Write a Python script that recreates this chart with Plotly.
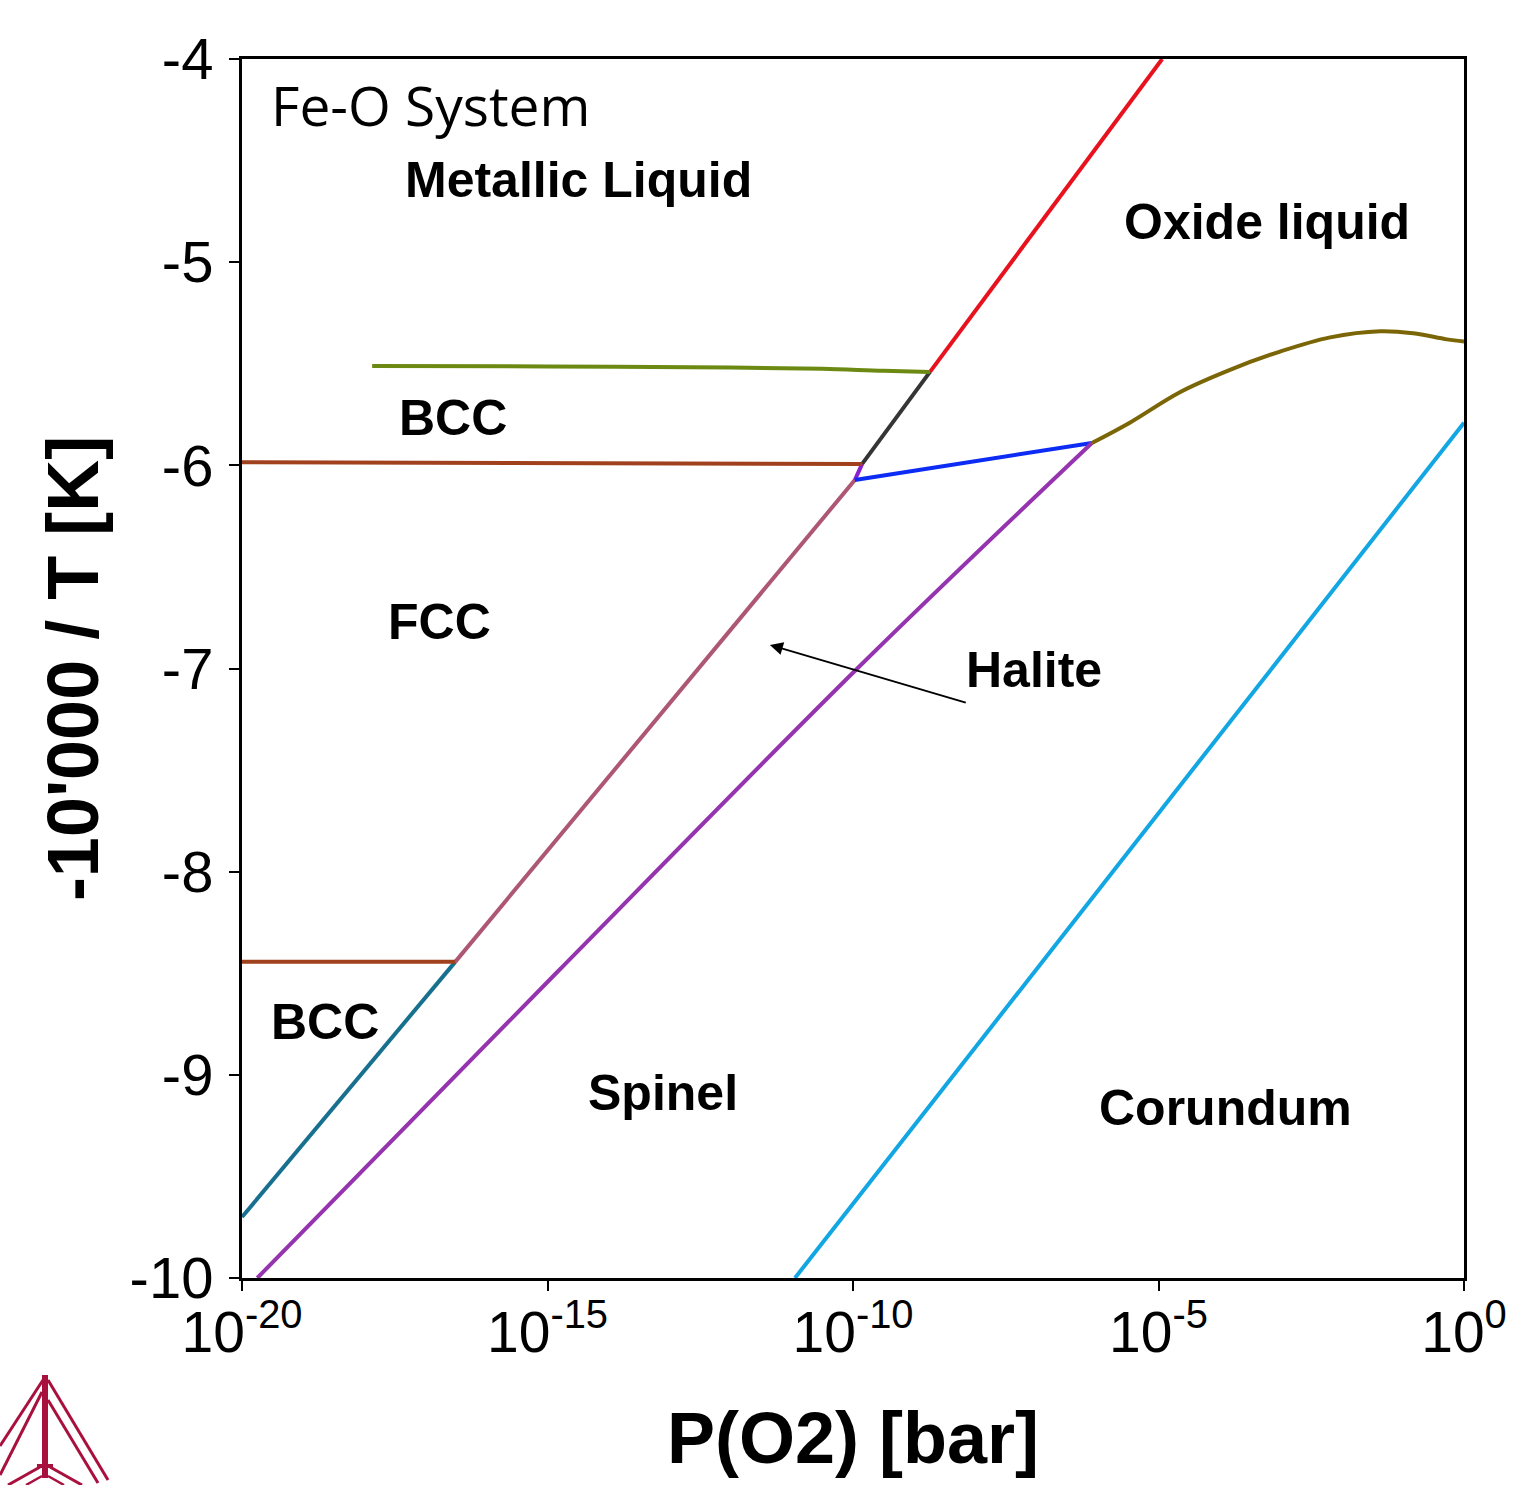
import plotly.graph_objects as go

# ---- data (log10 P(O2) in bar, -10000/T) ----
red_logp = [-8.74, -4.94]
red_y = [-5.54, -4.0]

black_logp = [-9.85, -8.74]
black_y = [-5.993, -5.54]

mauve_logp = [-16.51, -9.97]
mauve_y = [-8.444, -6.072]

violet_logp = [-9.97, -9.85]
violet_y = [-6.072, -5.993]

teal_logp = [-20.0, -16.51]
teal_y = [-9.70, -8.444]

green_logp = [-17.87, -15.0, -12.0, -10.5, -9.5, -8.74]
green_y = [-5.511, -5.513, -5.518, -5.525, -5.535, -5.54]

brown_hi_logp = [-20.0, -15.0, -9.85]
brown_hi_y = [-5.985, -5.988, -5.993]

brown_lo_logp = [-20.0, -16.51]
brown_lo_y = [-8.444, -8.444]

blue_logp = [-9.97, -6.09]
blue_y = [-6.072, -5.89]

purple_logp = [-19.75, -14.86, -9.93, -6.09]
purple_y = [-10.0, -8.5, -7.0, -5.89]

olive_logp = [-6.09, -5.47, -4.65, -3.83, -3.01, -2.19, -1.37, -0.83, -0.28, 0.0]
olive_y = [-5.89, -5.79, -5.64, -5.53, -5.44, -5.37, -5.34, -5.35, -5.38, -5.39]

cyan_logp = [-10.95, 0.0]
cyan_y = [-10.0, -5.79]

x_tick_exps = [-20, -15, -10, -5, 0]
y_ticks = [-4, -5, -6, -7, -8, -9, -10]

region_labels = ["Metallic Liquid", "Oxide liquid", "BCC", "FCC", "Halite", "BCC", "Spinel", "Corundum"]
region_logp = [-14.50, -3.22, -16.55, -16.76, -7.04, -18.64, -13.11, -3.90]
region_y = [-4.595, -4.80, -5.767, -6.77, -7.007, -8.739, -9.089, -9.162]

series = [
    (teal_logp, teal_y, "#17708e", "linear"),
    (mauve_logp, mauve_y, "#ad5774", "linear"),
    (violet_logp, violet_y, "#8a1fd0", "linear"),
    (black_logp, black_y, "#353535", "linear"),
    (red_logp, red_y, "#e8121f", "linear"),
    (green_logp, green_y, "#6c8a12", "spline"),
    (brown_hi_logp, brown_hi_y, "#a0401c", "linear"),
    (brown_lo_logp, brown_lo_y, "#a0401c", "linear"),
    (blue_logp, blue_y, "#0c2cf5", "linear"),
    (purple_logp, purple_y, "#9534ae", "spline"),
    (olive_logp, olive_y, "#7b6607", "spline"),
    (cyan_logp, cyan_y, "#12a6e2", "linear"),
]

fig = go.Figure()
for lp, yy, col, shp in series:
    fig.add_trace(go.Scatter(x=[10 ** v for v in lp], y=yy, mode="lines",
                             line=dict(color=col, width=4, shape=shp), showlegend=False,
                             hoverinfo="skip"))

L, R, T, B = 242, 51, 59, 207
W, H = 1515, 1485

fig.update_layout(
    width=W, height=H,
    margin=dict(l=L, r=R, t=T, b=B, autoexpand=False),
    paper_bgcolor="white", plot_bgcolor="white",
    font=dict(family="Liberation Sans, Arial", color="black"),
    showlegend=False,
)

fig.update_xaxes(
    type="log", range=[-20, 0],
    tickvals=[10 ** e for e in x_tick_exps],
    ticktext=["10<sup>%d</sup>" % e for e in x_tick_exps],
    tickfont=dict(size=57, family="Liberation Sans, Arial"),
    ticks="outside", ticklen=10, tickwidth=2, tickcolor="black",
    ticklabelstandoff=-7,
    showline=True, linecolor="black", linewidth=3, mirror=True,
    showgrid=False, zeroline=False,
    title=dict(text="<b>P(O2) [bar]</b>", font=dict(size=72, family="Liberation Sans, Arial"), standoff=50),
)
fig.update_yaxes(
    range=[-10, -4],
    tickvals=y_ticks, ticktext=[str(v) for v in y_ticks],
    tickfont=dict(size=58, family="Liberation Sans, Arial"),
    ticks="outside", ticklen=10, tickwidth=2, tickcolor="black",
    ticklabelstandoff=4,
    showline=True, linecolor="black", linewidth=3, mirror=True,
    showgrid=False, zeroline=False,
    title=dict(text="<b>-10'000 / T [K]</b>", font=dict(size=72, family="Liberation Sans, Arial"), standoff=8),
)

# region labels
for txt, lp, yy in zip(region_labels, region_logp, region_y):
    fig.add_annotation(x=lp, y=yy, xref="x", yref="y", text="<b>%s</b>" % txt,
                       showarrow=False, font=dict(size=50, family="Liberation Sans, Arial", color="black"))

fig.add_annotation(x=-16.92, y=-4.226, xref="x", yref="y", text="Fe-O System",
                   showarrow=False, font=dict(size=55, family="Open Sans", color="black"))

# Halite arrow
fig.add_annotation(x=-11.36, y=-6.884, xref="x", yref="y",
                   ax=-8.13, ay=-7.17, axref="x", ayref="y",
                   text="", showarrow=True, arrowhead=2, arrowsize=1.3,
                   arrowwidth=2, arrowcolor="black")

# logo (pixel -> paper)
def px(xp, yp):
    return (xp - L) / (W - L - R), (H - B - yp) / (H - T - B)

logo_col = "#a8103e"
logo_lines = [
    ((45, 1375), (45, 1478), 6),
    ((43, 1380), (0, 1446), 3),
    ((42, 1392), (0, 1475), 3),
    ((48, 1380), (108, 1480), 3),
    ((48, 1400), (98, 1483), 3),
    ((37, 1466), (53, 1466), 4),
    ((8, 1485), (40, 1467), 3),
    ((50, 1467), (82, 1485), 3),
    ((26, 1485), (42, 1476), 2.5),
    ((48, 1476), (64, 1485), 2.5),
]
for (p0, p1, w) in logo_lines:
    x0, y0 = px(*p0)
    x1, y1 = px(*p1)
    fig.add_shape(type="line", xref="paper", yref="paper", x0=x0, y0=y0, x1=x1, y1=y1,
                  line=dict(color=logo_col, width=w))

fig.write_html("out.html")
